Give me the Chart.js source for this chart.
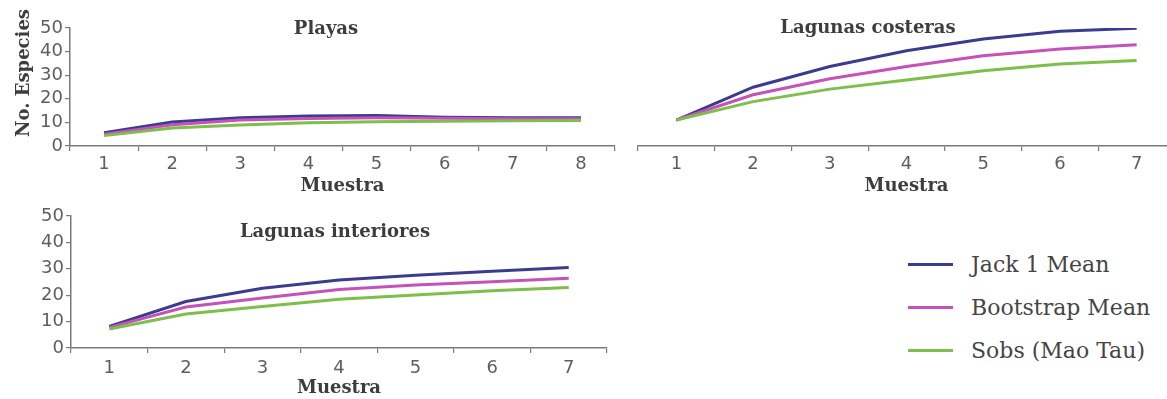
<!DOCTYPE html>
<html lang="es">
<head>
<meta charset="utf-8">
<title>Curvas de acumulación de especies</title>
<script src="https://cdn.jsdelivr.net/npm/chart.js@4.4.1/dist/chart.umd.min.js"></script>
<style>
  html, body { margin: 0; padding: 0; background: #ffffff; overflow: hidden; }
  body { width: 1167px; height: 399px; position: relative; }
  canvas { position: absolute; }
  #legend { position: absolute; left: 908px; top: 243px; font-family: "DejaVu Serif", serif; font-size: 22px; color: #454545; }
  #legend .row { display: flex; align-items: center; height: 43px; }
  #legend .swatch { width: 45px; height: 3px; margin-right: 18px; }
</style>
</head>
<body>
<canvas id="playas" width="625" height="200" style="left:0;top:0"></canvas>
<canvas id="costeras" width="550" height="200" style="left:625px;top:0"></canvas>
<canvas id="interiores" width="620" height="199" style="left:0;top:200px"></canvas>
<div id="legend"></div>
<script>
// Series names and colours
const seriesNames = ['Jack 1 Mean', 'Bootstrap Mean', 'Sobs (Mao Tau)'];
const seriesColors = ['#3b3b8f', '#c452b8', '#7dbf4a'];

// Y ticks (No. Especies)
const yTicks = [0, 10, 20, 30, 40, 50];

// Playas
const playasSamples = ['1', '2', '3', '4', '5', '6', '7', '8'];
const playasJack = [5.6, 10.2, 12.0, 12.7, 12.9, 12.2, 12.0, 12.0];
const playasBoot = [5.0, 9.0, 11.0, 11.6, 12.0, 11.8, 11.5, 11.5];
const playasSobs = [4.4, 7.6, 8.9, 9.8, 10.3, 10.5, 10.7, 10.8];

// Lagunas costeras
const costerasSamples = ['1', '2', '3', '4', '5', '6', '7'];
const costerasJack = [11.0, 24.9, 33.7, 40.4, 45.3, 48.6, 49.9];
const costerasBoot = [11.0, 21.7, 28.5, 33.7, 38.2, 41.1, 42.9];
const costerasSobs = [11.0, 18.8, 24.1, 28.0, 31.9, 34.7, 36.2];

// Lagunas interiores
const interioresSamples = ['1', '2', '3', '4', '5', '6', '7'];
const interioresJack = [8.2, 17.6, 22.6, 25.8, 27.6, 29.1, 30.5];
const interioresBoot = [7.8, 15.5, 18.9, 22.2, 23.9, 25.1, 26.4];
const interioresSobs = [7.2, 12.9, 15.7, 18.5, 20.1, 21.7, 22.9];

const AXIS_GREY = '#7a7a7a';
const TICK_FONT = { family: 'DejaVu Sans', size: 18 };
const TITLE_FONT = 'bold 18px "DejaVu Serif"';
const YTITLE_FONT = 'bold 18px "DejaVu Serif"';

// Draws the panel heading and the rotated y-axis caption
const panelText = {
  id: 'panelText',
  afterDraw(chart, args, opts) {
    const ctx = chart.ctx;
    const a = chart.chartArea;
    ctx.save();
    ctx.fillStyle = '#3d3d3d';
    ctx.textAlign = 'center';
    ctx.textBaseline = 'middle';
    ctx.font = TITLE_FONT;
    ctx.fillText(opts.title, a.left + opts.titleDx, a.top + opts.titleDy);
    if (opts.yTitle) {
      ctx.font = YTITLE_FONT;
      ctx.translate(opts.yTitleX, opts.yTitleY);
      ctx.rotate(-Math.PI / 2);
      ctx.fillText(opts.yTitle, 0, 0);
    }
    ctx.restore();
  }
};

function makeDatasets(values) {
  return values.map((v, i) => ({
    label: seriesNames[i],
    data: v,
    borderColor: seriesColors[i],
    backgroundColor: seriesColors[i],
    borderWidth: 3,
    pointRadius: 0,
    tension: 0,
    order: values.length - i
  }));
}

function makeChart(id, labels, values, o) {
  return new Chart(document.getElementById(id), {
    type: 'line',
    data: { labels: labels, datasets: makeDatasets(values) },
    plugins: [panelText],
    options: {
      responsive: false,
      animation: false,
      events: [],
      layout: { padding: o.padding },
      plugins: {
        legend: { display: false },
        tooltip: { enabled: false },
        panelText: o.text
      },
      scales: {
        x: {
          type: 'category',
          offset: true,
          border: { display: true, color: AXIS_GREY, width: 1.5 },
          grid: { display: true, offset: true, drawOnChartArea: false, drawTicks: true, tickLength: 5, color: AXIS_GREY, lineWidth: 1.2 },
          ticks: { font: TICK_FONT, color: '#5e5e5e', padding: o.xPad, maxRotation: 0, autoSkip: false },
          title: { display: true, text: 'Muestra', color: '#3d3d3d', font: { family: 'DejaVu Serif', size: 18, weight: 'bold' }, padding: { top: 0, bottom: o.xTitlePad } },
          afterFit(scale) { scale.height = o.xHeight; }
        },
        y: {
          display: o.showY,
          min: 0,
          max: 50,
          afterBuildTicks(scale) { scale.ticks = yTicks.map(v => ({ value: v })); },
          border: { display: true, color: AXIS_GREY, width: 1.5 },
          grid: { display: true, drawOnChartArea: false, drawTicks: true, tickLength: 5, color: AXIS_GREY, lineWidth: 1.2 },
          ticks: { font: TICK_FONT, color: '#5e5e5e', padding: 2, autoSkip: false },
          afterFit(scale) { scale.width = o.yWidth; }
        }
      }
    }
  });
}

makeChart('playas', playasSamples, [playasJack, playasBoot, playasSobs], {
  padding: { top: 28, right: 10, left: 0, bottom: 0 },
  showY: true, yWidth: 70, xHeight: 54, xPad: 3, xTitlePad: 3,
  text: { title: 'Playas', titleDx: 256, titleDy: 1, yTitle: 'No. Especies', yTitleX: 24, yTitleY: 73 }
});

makeChart('costeras', costerasSamples, [costerasJack, costerasBoot, costerasSobs], {
  padding: { top: 28, right: 0, left: 13, bottom: 0 },
  showY: false, yWidth: 0, xHeight: 54, xPad: 3, xTitlePad: 3,
  text: { title: 'Lagunas costeras', titleDx: 230, titleDy: 0 }
});

makeChart('interiores', interioresSamples, [interioresJack, interioresBoot, interioresSobs], {
  padding: { top: 16, right: 13, left: 0, bottom: 0 },
  showY: true, yWidth: 71, xHeight: 51, xPad: 5, xTitlePad: 0,
  text: { title: 'Lagunas interiores', titleDx: 264, titleDy: 16, yTitle: 'No. Especies', yTitleX: 19, yTitleY: 277 }
});

// Shared legend
const legend = document.getElementById('legend');
seriesNames.forEach((name, i) => {
  const row = document.createElement('div');
  row.className = 'row';
  const sw = document.createElement('span');
  sw.className = 'swatch';
  sw.style.background = seriesColors[i];
  const txt = document.createElement('span');
  txt.textContent = name;
  row.appendChild(sw);
  row.appendChild(txt);
  legend.appendChild(row);
});
</script>
</body>
</html>
